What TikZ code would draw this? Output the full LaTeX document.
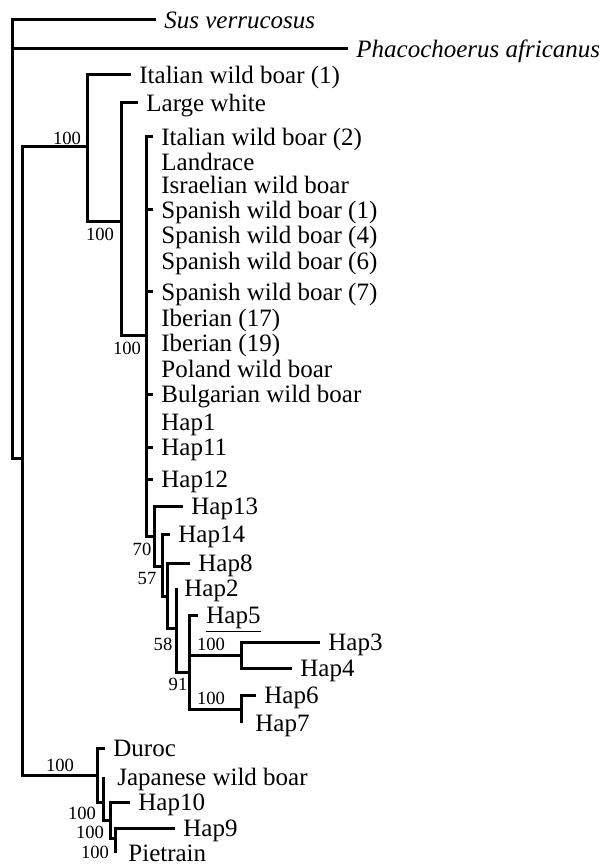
\documentclass[tikz,border=0pt]{standalone}
\usepackage{fontspec}
\setmainfont{Liberation Serif}
\usetikzlibrary{positioning}
\newcommand\tipfont{\fontsize{12.5}{14}\selectfont}
\tikzset{
  branch/.style={line width=1.5pt},
  tip/.style={anchor=west, inner xsep=4pt, inner ysep=0pt, text height=8.2pt, text depth=0pt, font=\tipfont},
  boot/.style={inner sep=0pt, font=\fontsize{9.3}{10}\selectfont},
}

\begin{document}
\begin{tikzpicture}[x=0.5pt,y=-0.5pt]
  \useasboundingbox (0,0) rectangle (605,865);
  \coordinate (root) at (12,458);
  \coordinate (E) at (22,458);
  \node[tip, font=\tipfont\itshape] (sus) at (156,20) {Sus verrucosus};
  \node[tip, font=\tipfont\itshape] (phaco) at (348,49) {Phacochoerus africanus};
  \draw[branch] (sus.west) -| (root) -- (E);
  \draw[branch] (root) |- (phaco.west);

  \coordinate (W1) at (87,147);
  \coordinate (W2) at (121,222);
  \coordinate (W3) at (146,336);
  \coordinate (W4) at (154,536);
  \coordinate (W5) at (162,566);
  \coordinate (W6) at (167,596);
  \coordinate (W7) at (176,628);
  \coordinate (W8) at (189,672);
  \coordinate (W9) at (241,655);
  \coordinate (W10) at (241,709);
  \node[tip] (ita1) at (131,75) {Italian wild boar (1)};
  \node[tip] (lw) at (138,103) {Large white};
  \foreach \y/\t/\n in {137/Italian wild boar (2)/1,162/Landrace/2,185/Israelian wild boar/3,
      210/Spanish wild boar (1)/4,235/Spanish wild boar (4)/5,261/Spanish wild boar (6)/6,
      292/Spanish wild boar (7)/7,318/Iberian (17)/8,343/Iberian (19)/9,369/Poland wild boar/10,
      394/Bulgarian wild boar/11,422/Hap1/12,447/Hap11/13,479/Hap12/14}
    \node[tip] (p\n) at (153,\y) {\t};
  \node[tip] (h13) at (183,506) {Hap13};
  \node[tip] (h14) at (170,534) {Hap14};
  \node[tip] (h8) at (190,563) {Hap8};
  \node[tip] (h2) at (176,588) {Hap2};
  \node[tip] (h5) at (198,615) {\underline{Hap5}};
  \node[tip] (h3) at (320,642) {Hap3};
  \node[tip] (h4) at (292,668) {Hap4};
  \node[tip] (h6) at (256,695) {Hap6};
  \node[tip] (h7) at (247,723) {Hap7};

  \draw[branch] (E) |- (W1);
  \draw[branch] (W1) |- (ita1.west);
  \draw[branch] (W1) |- (W2);
  \draw[branch] (W2) |- (lw.west);
  \draw[branch] (W2) |- (W3);
  \foreach \n in {1,4,7,11,13,14}
    \draw[branch] (W3) |- (p\n.west);
  \draw[branch] (W3) |- (W4);
  \draw[branch] (W4) |- (h13.west);
  \draw[branch] (W4) |- (W5);
  \draw[branch] (W5) |- (h14.west);
  \draw[branch] (W5) |- (W6);
  \draw[branch] (W6) |- (h8.west);
  \draw[branch] (W6) |- (W7);
  \draw[branch] (W7) -- (W7 |- h2.west);
  \draw[branch] (W7) |- (W8);
  \draw[branch] (W8) |- (h5.west);
  \draw[branch] (W8) |- (W9);
  \draw[branch] (W8) |- (W10);
  \draw[branch] (W9) |- (h3.west);
  \draw[branch] (W9) |- (h4.west);
  \draw[branch] (W10) |- (h6.west);
  \draw[branch] (W10) -- (W10 |- h7.west);

  \coordinate (A1) at (97,775);
  \coordinate (A2) at (103,802);
  \coordinate (A3) at (110,820);
  \coordinate (A4) at (115,838);
  \node[tip] (duroc) at (105,748) {Duroc};
  \node[tip] (jwb) at (109,777) {Japanese wild boar};
  \node[tip] (h10) at (130,802) {Hap10};
  \node[tip] (h9) at (175,828) {Hap9};
  \node[tip] (pie) at (120,853) {Pietrain};
  \draw[branch] (E) |- (A1);
  \draw[branch] (A1) |- (duroc.west);
  \draw[branch] (A1) |- (A2);
  \draw[branch] (A2) -- (A2 |- jwb.west);
  \draw[branch] (A2) |- (A3);
  \draw[branch] (A3) |- (h10.west);
  \draw[branch] (A3) |- (A4);
  \draw[branch] (A4) |- (h9.west);
  \draw[branch] (A4) -- (A4 |- pie.west);

  \node[boot] (b1) at (67,138) {100};
  \node[boot] (b2) at (100,234) {100};
  \node[boot] (b3) at (127,348) {100};
  \node[boot] (b4) at (142,549) {70};
  \node[boot] (b5) at (147,578) {57};
  \node[boot] (b6) at (163,644) {58};
  \node[boot] (b7) at (178,684) {91};
  \node[boot] (b8) at (211,644) {100};
  \node[boot] (b9) at (211,698) {100};
  \node[boot] (b10) at (60,765) {100};
  \node[boot] (b11) at (82,813) {100};
  \node[boot] (b12) at (90,832) {100};
  \node[boot] (b13) at (95,852) {100};
\end{tikzpicture}
\end{document}
